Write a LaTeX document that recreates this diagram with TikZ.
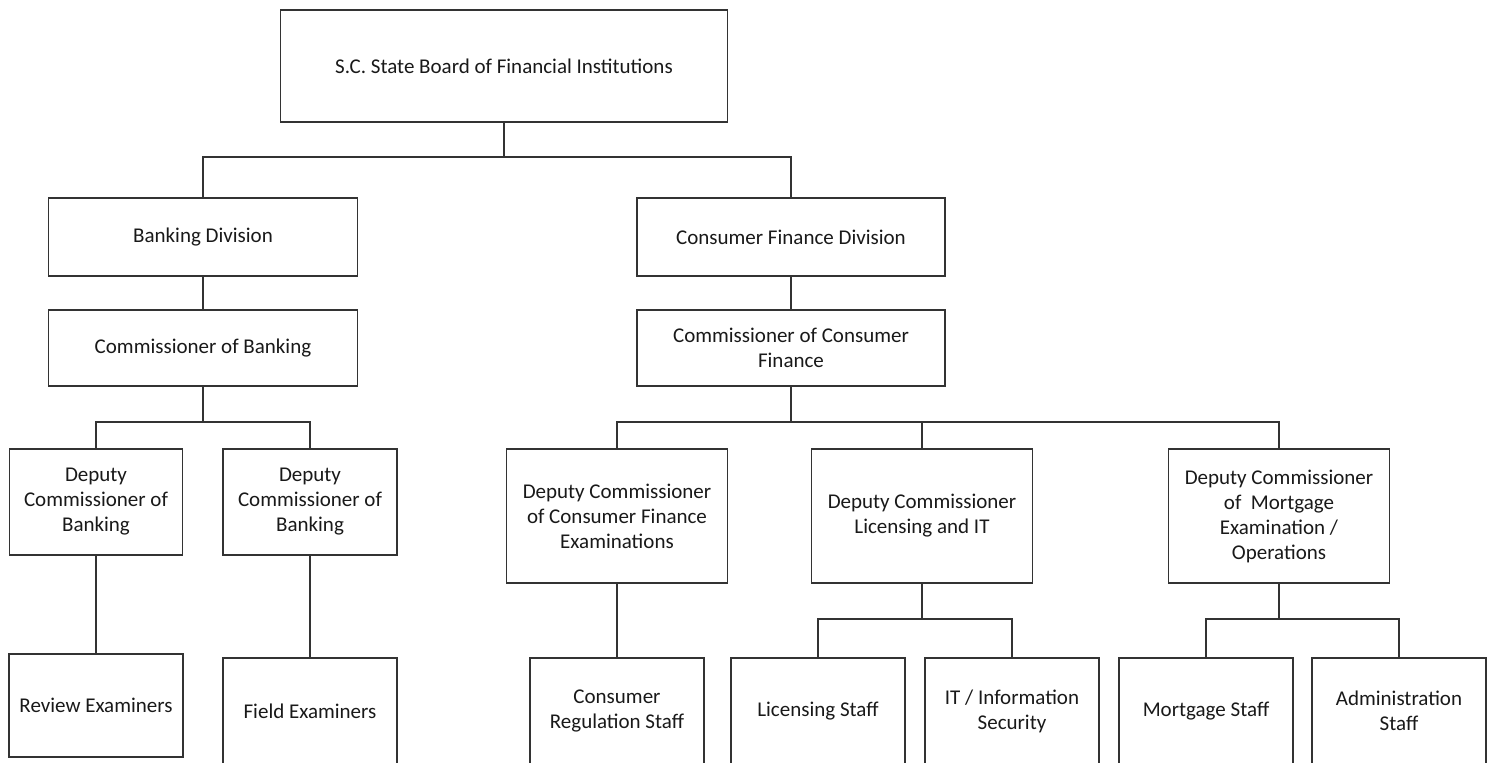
\documentclass[tikz,border=0pt]{standalone}
\usepackage{fontspec}
\setmainfont{Carlito}
\usepackage{tikz}
\usetikzlibrary{calc, positioning}
\tikzset{
    boxnode/.style = {draw=black!80, line width=1.8pt, rectangle, fill=white, inner sep=0pt,
      font=\fontsize{21}{25}\selectfont, text=black!90},
    staffnode/.style = {boxnode, minimum width=174pt, minimum height=106pt},
    deputynode/.style = {boxnode, minimum width=221pt, minimum height=134pt},
    connect/.style = {black!80, line width=1.8pt},
    every text node part/.style={align=center}
}

\begin{document}
\begin{tikzpicture}[x=1pt, y=-1pt]
    \clip (0,0) rectangle (1494,763);
    \fill [white] (0,0) rectangle (1494,763);

    % top level
    \node [boxnode, name=board, minimum width=447pt, minimum height=112pt] at (504,66) {S.C. State Board of Financial Institutions};

    % divisions
    \node [boxnode, name=bankdiv, minimum width=309pt, minimum height=78pt] at (203,237) {Banking Division};
    \node [boxnode, name=cfdiv, minimum width=308pt, minimum height=78pt] at (791,237) {Consumer Finance Division};

    \node [boxnode, name=bankcom, minimum width=309pt, minimum height=76pt] at (203,348) {Commissioner of Banking};
    \node [boxnode, name=cfcom, minimum width=308pt, minimum height=76pt] at (791,348) {Commissioner of Consumer \\ Finance};

    % deputies
    \node [boxnode, name=bankdepa, minimum width=173pt, minimum height=106pt] at (96,502) {Deputy \\ Commissioner of \\ Banking};
    \node [boxnode, name=bankdepb, minimum width=174pt, minimum height=106pt] at (310,502) {Deputy \\ Commissioner of \\ Banking};
    \node [deputynode, name=cfdepexam] at (617,516) {Deputy Commissioner \\ of Consumer Finance \\ Examinations};
    \node [deputynode, name=cfdeplic] at (922,516) {Deputy Commissioner \\ Licensing and IT};
    \node [deputynode, name=cfdepmort] at (1279,516) {Deputy Commissioner \\ of~~Mortgage \\ Examination / \\ Operations};

    % staff
    \node [staffnode, name=review, minimum height=103pt] at (96,705.5) {Review Examiners};
    \node [staffnode, name=field] at (310,711) {Field Examiners};
    \node [staffnode, name=regstaff] at (617,711) {Consumer \\ Regulation Staff};
    \node [staffnode, name=licstaff] at (818,711) {Licensing Staff};
    \node [staffnode, name=itsec] at (1012,711) {IT / Information \\ Security};
    \node [staffnode, name=mortstaff] at (1206,711) {Mortgage Staff};
    \node [staffnode, name=adminstaff] at (1399,711) {Administration \\ Staff};

    % connectors
    \coordinate (busboard) at (504,157);
    \draw [connect] (board.south) -- (busboard);
    \draw [connect] (busboard) -| (bankdiv.north);
    \draw [connect] (busboard) -| (cfdiv.north);

    \draw [connect] (bankdiv) -- (bankcom);
    \draw [connect] (cfdiv) -- (cfcom);

    \coordinate (busbank) at (203,422);
    \draw [connect] (bankcom.south) -- (busbank);
    \draw [connect] (busbank) -| (bankdepa.north);
    \draw [connect] (busbank) -| (bankdepb.north);

    \coordinate (buscf) at (791,422);
    \draw [connect] (cfcom.south) -- (buscf);
    \draw [connect] (buscf) -| (cfdepexam.north);
    \draw [connect] (buscf) -| (cfdeplic.north);
    \draw [connect] (buscf) -| (cfdepmort.north);

    \draw [connect] (bankdepa) -- (review);
    \draw [connect] (bankdepb) -- (field);
    \draw [connect] (cfdepexam) -- (regstaff);

    \coordinate (buslic) at (922,619);
    \draw [connect] (cfdeplic.south) -- (buslic);
    \draw [connect] (buslic) -| (licstaff.north);
    \draw [connect] (buslic) -| (itsec.north);

    \coordinate (busmort) at (1279,619);
    \draw [connect] (cfdepmort.south) -- (busmort);
    \draw [connect] (busmort) -| (mortstaff.north);
    \draw [connect] (busmort) -| (adminstaff.north);
\end{tikzpicture}
\end{document}
